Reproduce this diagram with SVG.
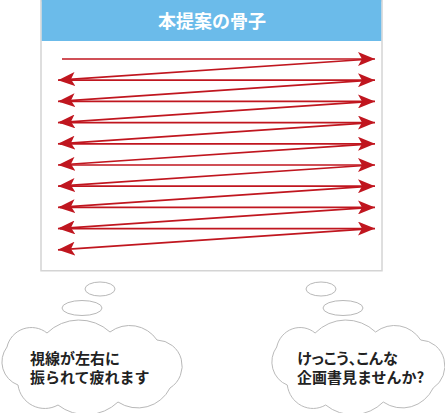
<svg xmlns="http://www.w3.org/2000/svg" width="445" height="413" viewBox="0 0 445 413">
<style>
.box{fill:#fff;stroke:#d4d4d4;stroke-width:1.5}
.hdr{fill:#6bbbea}
.ttl{font-family:"Noto Sans CJK JP","Noto Sans",sans-serif;font-size:18px;font-weight:bold;fill:#fff;text-anchor:middle}
.ln{stroke:#c0161f;stroke-width:1.7;fill:none}
.cl{fill:#fff;stroke:#b8b8b8;stroke-width:1}
.tx{font-family:"Noto Sans CJK JP","Noto Sans",sans-serif;font-size:15px;font-weight:bold;fill:#222}
.pa{font-feature-settings:"palt"}
</style>
<defs>
<marker id="ah" viewBox="0 0 17 14" markerUnits="userSpaceOnUse" markerWidth="17" markerHeight="14" refX="17" refY="7" orient="auto">
<path d="M0,0 L17,7 L0,14 L4,7 z" fill="#c0161f"/>
</marker>
<path id="cloud" d="M7,347 A25,25 0 0 1 47,333 A46,46 0 0 1 110,332 A33,33 0 0 1 157,340 A26,26 0 0 1 170,388 A36,36 0 0 1 118,402 A46,46 0 0 1 58,405 A27,27 0 0 1 18,385 A24.6,24.6 0 0 1 7,347 Z"/>
</defs>
<g id="panel">
<rect class="box" x="41" y="0.75" width="341" height="270"/>
<rect class="hdr" x="41.75" y="0" width="339.5" height="41"/>
<text class="ttl" x="212" y="28">本提案の骨子</text>
</g>
<g id="connectors">
<line class="ln" x1="62" y1="59" x2="375" y2="59" marker-end="url(#ah)"/>
<line class="ln" x1="60" y1="80.2" x2="375" y2="80.2" marker-end="url(#ah)"/>
<line class="ln" x1="60" y1="101.4" x2="375" y2="101.4" marker-end="url(#ah)"/>
<line class="ln" x1="60" y1="122.6" x2="375" y2="122.6" marker-end="url(#ah)"/>
<line class="ln" x1="60" y1="143.8" x2="375" y2="143.8" marker-end="url(#ah)"/>
<line class="ln" x1="60" y1="165" x2="375" y2="165" marker-end="url(#ah)"/>
<line class="ln" x1="60" y1="186.2" x2="375" y2="186.2" marker-end="url(#ah)"/>
<line class="ln" x1="60" y1="207.4" x2="375" y2="207.4" marker-end="url(#ah)"/>
<line class="ln" x1="60" y1="228.6" x2="375" y2="228.6" marker-end="url(#ah)"/>
<line class="ln" x1="372" y1="59" x2="58" y2="80.2" marker-end="url(#ah)"/>
<line class="ln" x1="372" y1="80.2" x2="58" y2="101.4" marker-end="url(#ah)"/>
<line class="ln" x1="372" y1="101.4" x2="58" y2="122.6" marker-end="url(#ah)"/>
<line class="ln" x1="372" y1="122.6" x2="58" y2="143.8" marker-end="url(#ah)"/>
<line class="ln" x1="372" y1="143.8" x2="58" y2="165" marker-end="url(#ah)"/>
<line class="ln" x1="372" y1="165" x2="58" y2="186.2" marker-end="url(#ah)"/>
<line class="ln" x1="372" y1="186.2" x2="58" y2="207.4" marker-end="url(#ah)"/>
<line class="ln" x1="372" y1="207.4" x2="58" y2="228.6" marker-end="url(#ah)"/>
<line class="ln" x1="372" y1="228.6" x2="58" y2="249.8" marker-end="url(#ah)"/>
</g>
<g id="thought-left">
<ellipse class="cl" cx="100" cy="289" rx="15" ry="7"/>
<ellipse class="cl" cx="82" cy="308" rx="20" ry="7.5"/>
<use href="#cloud" class="cl"/>
<text class="tx" x="30" y="364">視線が左右に</text>
<text class="tx" x="30" y="383">振られて疲れます</text>
</g>
<g id="thought-right">
<ellipse class="cl" cx="321" cy="289" rx="15" ry="7"/>
<ellipse class="cl" cx="343" cy="308" rx="20" ry="7.5"/>
<use href="#cloud" class="cl" transform="translate(270,0) scale(0.96,1)"/>
<text class="tx pa" x="297" y="364">けっこう、こんな</text>
<text class="tx" x="297" y="383">企画書見ませんか?</text>
</g>
</svg>
